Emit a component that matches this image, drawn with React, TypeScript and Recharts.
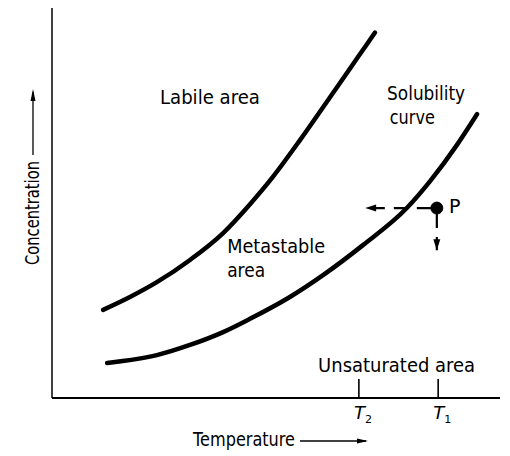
import { LineChart, Line, XAxis, YAxis, ReferenceDot, ReferenceLine } from "recharts";

// temperature (x) and concentration (y), both on a 0-100 scale
const labileT = [11.4, 17.4, 23.4, 30.8, 38.2, 44.2, 49.3, 55.4, 62.1, 68.1, 72.1];
const labileC = [22.6, 25.9, 29.7, 35.4, 42.3, 49.7, 56.7, 66.2, 77.2, 87.1, 93.7];
const solubT = [12.3, 23.4, 30.8, 38.2, 44.2, 53.1, 60.5, 69.4, 79.2, 84.4, 90.4, 94.9];
const solubC = [9.0, 11.0, 13.6, 16.9, 20.3, 25.9, 31.5, 39.2, 48.7, 55.6, 64.9, 72.8];

const tempTicks = [68.5, 86.2];
const tickSubs = ["2", "1"];

const pointP = { t: 85.9, c: 48.7 };
const coolTo = 69.9; // end of the horizontal arrow
const dropTo = 37.9; // end of the vertical arrow

const noteTexts = ["Labile area", "Solubility", "curve", "Metastable", "area", "Unsaturated area", "P"];
const noteT = [24.1, 74.8, 75.4, 39.1, 39.1, 59.4, 88.6];
const noteC = [77.2, 78.3, 72.1, 39.1, 32.8, 8.5, 49.2];
const noteW = [100, 78, 45, 98, 38, 157, 0];

const labile = labileT.map((t, i) => ({ t, c: labileC[i] }));
const solub = solubT.map((t, i) => ({ t, c: solubC[i] }));

const FONT = "'DejaVu Sans', sans-serif";
const FS = 19;

const head = (x: number, y: number, dx: number, dy: number, len = 10, hw = 3.5) => {
  const n = Math.hypot(dx, dy) || 1;
  const ux = dx / n;
  const uy = dy / n;
  const bx = x - ux * len;
  const by = y - uy * len;
  return `${x},${y} ${bx - uy * hw},${by + ux * hw} ${bx + uy * hw},${by - ux * hw}`;
};

const arrowShape = (props: any) => {
  const { x1, y1, x2, y2 } = props;
  return (
    <g>
      <line x1={x1} y1={y1} x2={x2} y2={y2} stroke="#000" strokeWidth={2.2} strokeDasharray="14 9" strokeDashoffset={-6} />
      <polygon points={head(x2, y2, x2 - x1, y2 - y1, 11, 3.5)} fill="#000" />
    </g>
  );
};

const tickShape = (props: any) => {
  const { x1, y1, x2, y2 } = props;
  return <line x1={x1} y1={y1} x2={x2} y2={y2} stroke="#000" strokeWidth={1.6} />;
};

const TTick = (props: any) => {
  const { x, y, payload } = props;
  const i = tempTicks.indexOf(payload.value);
  return (
    <text x={x - 5} y={y + 21} fontFamily={FONT} fontSize={18} fill="#000">
      <tspan fontStyle="italic">T</tspan>
      <tspan fontSize={11} dy={4}>{tickSubs[i]}</tspan>
    </text>
  );
};

const XLabel = (props: any) => {
  const { viewBox } = props;
  const x0 = viewBox.x;
  const y0 = viewBox.y;
  return (
    <g>
      <text x={x0 + 141} y={y0 + 48} fontFamily={FONT} fontSize={FS} textLength={102} lengthAdjust="spacingAndGlyphs" fill="#000">
        Temperature
      </text>
      <line x1={x0 + 248} y1={y0 + 43} x2={x0 + 314} y2={y0 + 43} stroke="#000" strokeWidth={1.3} />
      <polygon points={head(x0 + 316, y0 + 43, 1, 0, 11, 2.5)} fill="#000" />
    </g>
  );
};

const YLabel = () => {
  const cx = 39;
  return (
    <g>
      <text
        x={cx}
        y={265}
        transform={`rotate(-90 ${cx} 265)`}
        fontFamily={FONT}
        fontSize={FS}
        textLength={104}
        lengthAdjust="spacingAndGlyphs"
        fill="#000"
      >
        Concentration
      </text>
      <line x1={cx - 6} y1={155} x2={cx - 6} y2={92} stroke="#000" strokeWidth={1.3} />
      <polygon points={head(cx - 6, 89, 0, -1, 12, 2.5)} fill="#000" />
    </g>
  );
};

const noteLabel = (i: number) => (props: any) => {
  const { viewBox } = props;
  return (
    <text
      x={viewBox.x}
      y={viewBox.y}
      dominantBaseline="central"
      fontFamily={FONT}
      fontSize={FS}
      fill="#000"
      {...(noteW[i] ? { textLength: noteW[i], lengthAdjust: "spacingAndGlyphs" } : {})}
    >
      {noteTexts[i]}
    </text>
  );
};

export default function App() {
  return (
    <div style={{ position: "absolute", left: 0, top: 0, background: "#fff" }}>
      <LineChart width={510} height={456} margin={{ top: 8, right: 10, left: 0, bottom: 0 }}>
        <XAxis
          type="number"
          dataKey="t"
          domain={[0, 100]}
          ticks={tempTicks}
          tick={<TTick />}
          tickLine={false}
          tickSize={0}
          tickMargin={0}
          height={58}
          axisLine={{ stroke: "#000", strokeWidth: 2 }}
          label={<XLabel />}
        />
        <YAxis
          type="number"
          dataKey="c"
          domain={[0, 100]}
          tick={false}
          tickLine={false}
          width={52}
          axisLine={{ stroke: "#000", strokeWidth: 1.5 }}
          label={<YLabel />}
        />
        <Line
          data={labile}
          dataKey="c"
          type="monotone"
          stroke="#000"
          strokeWidth={4.5}
          strokeLinecap="round"
          dot={false}
          isAnimationActive={false}
        />
        <Line
          data={solub}
          dataKey="c"
          type="monotone"
          stroke="#000"
          strokeWidth={4.5}
          strokeLinecap="round"
          dot={false}
          isAnimationActive={false}
        />
        {tempTicks.map((t) => (
          <ReferenceLine key={t} segment={[{ x: t, y: 0 }, { x: t, y: 4.9 }]} shape={tickShape} />
        ))}
        <ReferenceLine
          segment={[{ x: pointP.t, y: pointP.c }, { x: coolTo, y: pointP.c }]}
          shape={arrowShape}
        />
        <ReferenceLine
          segment={[{ x: pointP.t, y: pointP.c }, { x: pointP.t, y: dropTo }]}
          shape={arrowShape}
        />
        <ReferenceDot x={pointP.t} y={pointP.c} r={6} fill="#000" stroke="#000" />
        {noteTexts.map((s, i) => (
          <ReferenceDot
            key={s + i}
            x={noteT[i]}
            y={noteC[i]}
            r={0}
            fill="none"
            stroke="none"
            label={noteLabel(i)}
          />
        ))}
      </LineChart>
    </div>
  );
}
